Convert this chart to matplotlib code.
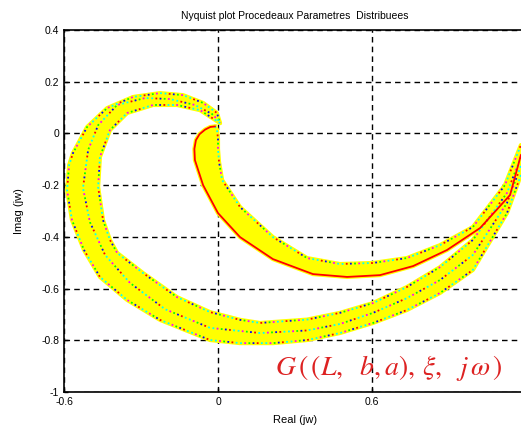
import numpy as np
import matplotlib
matplotlib.use('Agg')
import matplotlib.pyplot as plt

plt.rcParams['font.family'] = ['Liberation Sans', 'DejaVu Sans']
plt.rcParams['mathtext.fontset'] = 'stix'

# outer spiral, outer edge / middle / inner edge
outer_edge_x = [1.180, 1.126, 0.993, 0.865, 0.736, 0.604, 0.475, 0.347, 0.214, 0.086, -0.031,
                -0.226, -0.354, -0.460, -0.522, -0.569, -0.588, -0.580, -0.565, -0.510,
                -0.432, -0.331, -0.226, -0.136, -0.058, -0.004, 0.008]
outer_edge_y = [-0.161, -0.308, -0.528, -0.617, -0.683, -0.733, -0.772, -0.799, -0.811, -0.811,
                -0.799, -0.721, -0.644, -0.555, -0.451, -0.335, -0.219, -0.122, -0.076, 0.025,
                0.098, 0.141, 0.156, 0.148, 0.118, 0.079, 0.040]
outer_mid_x = [1.180, 1.126, 0.993, 0.865, 0.736, 0.604, 0.475, 0.347, 0.164, -0.031, -0.206,
               -0.343, -0.440, -0.499, -0.526, -0.506, -0.467, -0.393, -0.284, -0.187, -0.090,
               -0.023, 0.004]
outer_mid_y = [-0.126, -0.269, -0.470, -0.567, -0.637, -0.694, -0.737, -0.762, -0.772, -0.752,
               -0.680, -0.578, -0.470, -0.343, -0.211, -0.064, 0.032, 0.110, 0.137, 0.133,
               0.110, 0.075, 0.048]
outer_in_x = [0.008, -0.070, -0.160, -0.253, -0.354, -0.421, -0.460, -0.467, -0.448, -0.421,
              -0.393, -0.292, -0.160, -0.031, 0.086, 0.164, 0.347, 0.475, 0.604, 0.736, 0.865,
              0.993, 1.126, 1.180]
outer_in_y = [0.040, 0.090, 0.110, 0.110, 0.079, 0.013, -0.091, -0.207, -0.335, -0.412,
              -0.462, -0.540, -0.633, -0.691, -0.721, -0.733, -0.720, -0.694, -0.656, -0.594,
              -0.517, -0.412, -0.230, -0.091]

# inner spiral, outer (red) edge / inner edge
inner_edge_x = [1.180, 1.138, 1.021, 0.892, 0.760, 0.631, 0.503, 0.370, 0.214, 0.086, 0.000,
                -0.058, -0.090, -0.092, -0.086, -0.072, -0.050, -0.030, -0.012]
inner_edge_y = [-0.084, -0.238, -0.366, -0.451, -0.513, -0.548, -0.555, -0.544, -0.486, -0.401,
                -0.308, -0.200, -0.103, -0.060, -0.026, -0.003, 0.015, 0.025, 0.027]
inner_in_x = [-0.012, -0.004, 0.000, 0.000, 0.004, 0.016, 0.086, 0.214, 0.347, 0.475, 0.604,
              0.736, 0.865, 0.993, 1.118, 1.180]
inner_in_y = [0.027, 0.015, -0.020, -0.060, -0.110, -0.180, -0.285, -0.401, -0.482, -0.505,
              -0.501, -0.482, -0.432, -0.362, -0.200, -0.045]

title = 'Nyquist plot Procedeaux Parametres  Distribuees'
xticks = [-0.6, 0, 0.6, 1.2]
xtick_labels = ['-0.6', '0', '0.6', '']
yticks = [0.4, 0.2, 0, -0.2, -0.4, -0.6, -0.8, -1]
ytick_labels = ['0.4', '0.2', '0', '-0.2', '-0.4', '-0.6', '-0.8', '-1']

fig = plt.figure(figsize=(5.21, 4.32), dpi=100)
ax = fig.add_axes([64 / 521, 40 / 432, 462 / 521, 362 / 432])

yellow = '#ffff00'
ax.fill(outer_edge_x + outer_in_x, outer_edge_y + outer_in_y, color=yellow, lw=0, zorder=2)
ax.fill(inner_edge_x + inner_in_x, inner_edge_y + inner_in_y, color=yellow, lw=0, zorder=2)

speckle = ['#00ffff', '#ff00ff', '#00ff00', '#0000ff', '#ff0000', '#00ffff']
curves = [(outer_edge_x, outer_edge_y), (outer_mid_x, outer_mid_y), (outer_in_x, outer_in_y),
          (inner_in_x, inner_in_y)]
for cx, cy in curves:
    ax.plot(cx, cy, color=yellow, lw=3, zorder=3, solid_capstyle='round')
    for k, c in enumerate(speckle):
        ax.plot(cx, cy, color=c, lw=1.3, zorder=4,
                linestyle=(k * 2.3, (1, 13)))
ax.plot(inner_edge_x, inner_edge_y, color=yellow, lw=3, zorder=3)
ax.plot(inner_edge_x, inner_edge_y, color='#ff0000', lw=1.3, zorder=5)

ax.set_xlim(-0.6, 1.2)
ax.set_ylim(-1, 0.4)
ax.set_xticks(xticks)
ax.set_xticklabels(xtick_labels)
ax.set_yticks(yticks)
ax.set_yticklabels(ytick_labels)
ax.tick_params(direction='in', length=3, labelsize=7.5, width=1)
ax.grid(True, color='black', linestyle=(0, (4, 3)), linewidth=1)
for s in ax.spines.values():
    s.set_linewidth(1.2)

ax.set_title(title, fontsize=7.5, pad=8)
ax.set_xlabel('Real (jw)', fontsize=8, labelpad=6)
ax.set_ylabel('Imag (jw)', fontsize=8, labelpad=12)

ax.text(0.224, -0.907, r'$G\,(\,(L,\ \ b,a),\,\xi,\ \ j\,\omega\,)$', color='#dd2222',
        fontsize=20, ha='left', va='center', zorder=6)

fig.savefig('out.png', dpi=100)
